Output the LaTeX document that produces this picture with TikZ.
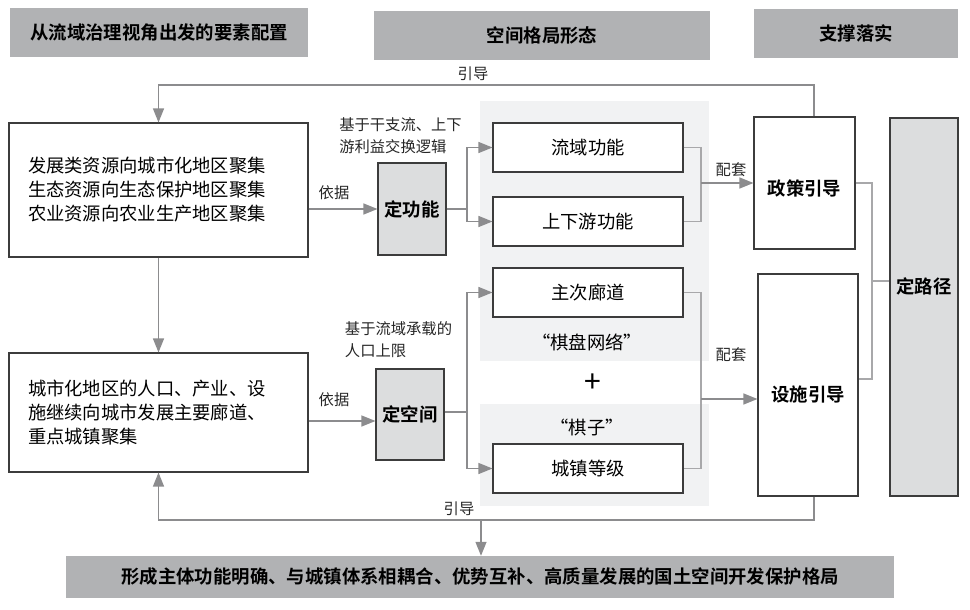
\documentclass[tikz,border=0pt]{standalone}
\usepackage{fontspec}
\setmainfont{Noto Sans CJK SC}[BoldFont={Noto Sans CJK SC Bold}]
\usetikzlibrary{arrows.meta,calc}
\definecolor{hdr}{RGB}{177,178,180}
\definecolor{panel}{RGB}{241,242,243}
\definecolor{boxfill}{RGB}{220,221,222}
\definecolor{bord}{RGB}{60,60,60}
\definecolor{conn}{RGB}{140,140,142}
\definecolor{brk}{RGB}{168,168,170}
\newcommand{\shiftdown}[2]{\raisebox{#1}[\height][\depth]{#2}}
\tikzset{
  hdrbox/.style={fill=hdr, draw=none, font=\fontsize{18.4}{22}\selectfont\bfseries, inner sep=0pt},
  whitebox/.style={draw=bord, line width=1.1pt, fill=white, inner sep=0pt},
  graybox/.style={draw=bord, line width=1.1pt, fill=boxfill, inner sep=0pt, font=\fontsize{18.4}{22}\selectfont\bfseries},
  txtbox/.style={draw=bord, line width=1.1pt, fill=white, text width=261pt, inner xsep=19pt, inner ysep=0pt, align=left, font=\fontsize{18.3}{24}\selectfont},
  midbox/.style={whitebox, minimum width=190pt, minimum height=49pt, font=\fontsize{18.3}{22}\selectfont},
  lbl/.style={font=\fontsize{15.3}{22}\selectfont, text=black!85, inner sep=0pt},
  conline/.style={draw=conn, line width=1.3pt},
  arr/.style={conline, -{Triangle[length=14pt,width=11pt,fill=conn]}},
  brkline/.style={draw=brk, line width=1.3pt},
}
\begin{document}
\begin{tikzpicture}[x=1pt,y=-1pt]
\useasboundingbox (0,0) rectangle (970,610);
% headers
\node[hdrbox, minimum width=298pt, minimum height=49pt] (h1) at (159,32.5) {从流域治理视角出发的要素配置};
\node[hdrbox, minimum width=336pt, minimum height=49pt] (h2) at (542,35.5) {空间格局形态};
\node[hdrbox, minimum width=204pt, minimum height=49pt] (h3) at (856,33.5) {支撑落实};
% panels
\fill[panel] (480,101) rectangle (709,361);
\fill[panel] (480,404) rectangle (709,506);
% left boxes
\node[txtbox, minimum height=134pt] (b1) at (158.5,190) {发展类资源向城市化地区聚集\\生态资源向生态保护地区聚集\\农业资源向农业生产地区聚集};
\node[txtbox, minimum height=119pt] (b2) at (158.5,412.5) {城市化地区的人口、产业、设\\施继续向城市发展主要廊道、\\重点城镇聚集};
% define boxes
\node[graybox, minimum width=68pt, minimum height=92pt] (dgn) at (412,209) {定功能};
\node[graybox, minimum width=68pt, minimum height=91pt] (dkj) at (410,414.5) {定空间};
% middle boxes
\node[midbox] (ly) at (588,147.5) {流域功能};
\node[midbox] (sxy) at (588,221.5) {上下游功能};
\node[midbox] (zcd) at (588,292.5) {主次廊道};
\node[midbox] (cz) at (588,468.5) {城镇等级};
\node[font=\fontsize{18.3}{22}\selectfont, inner sep=0pt] (qpwl) at (587,342) {“棋盘网络”};
\node[font=\fontsize{30}{30}\selectfont, inner sep=0pt] (plus) at (593,383) {+};
\node[font=\fontsize{18.3}{22}\selectfont, inner sep=0pt] (qz) at (587,427) {“棋子”};
% right boxes
\node[whitebox, minimum width=101pt, minimum height=132pt, font=\fontsize{18.4}{22}\selectfont\bfseries] (zc) at (804.5,183) {\shiftdown{-5pt}{政策引导}};
\node[whitebox, minimum width=100pt, minimum height=222pt, font=\fontsize{18.4}{22}\selectfont\bfseries] (ss) at (808,385) {\shiftdown{-9pt}{设施引导}};
\node[graybox, minimum width=68pt, minimum height=378pt] (dlj) at (924,307) {\shiftdown{21pt}{定路径}};
% bottom bar
\node[hdrbox, minimum width=828pt, minimum height=42pt] (bar) at (480,577) {形成主体功能明确、与城镇体系相耦合、优势互补、高质量发展的国土空间开发保护格局};
% labels
\node[lbl] (yj1) at (334,193) {依据};
\node[lbl] (yj2) at (334,400) {依据};
\node[lbl, align=left] (jy1) at (400.5,136) {基于干支流、上下\\游利益交换逻辑};
\node[lbl, align=left] (jy2) at (398.5,340) {基于流域承载的\\人口上限};
\node[lbl] (pt1) at (731,170) {配套};
\node[lbl] (pt2) at (731,355) {配套};
\node[lbl] (yd1) at (473,74) {引导};
\node[lbl] (yd2) at (459,509) {引导};
% coordinates
\coordinate (tl) at (814,85);
\coordinate (bl) at (814,520);
\coordinate (s1) at (467,209);
\coordinate (s2) at (467,412);
\coordinate (m1) at (701,183);
\coordinate (m2) at (701,399);
\coordinate (rb) at (872,281);
\coordinate (dn) at (481,520);
% connectors
\draw[arr] (b1.east |- dgn.west) -- (dgn.west);
\draw[arr] (b2.east |- 0,421) -- (dkj.west |- 0,421);
\draw[arr] (b1.south) -- (b2.north);
\draw[conline] (dgn.east) -- (s1);
\draw[arr] (s1) |- (ly.west);
\draw[arr] (s1) |- (sxy.west);
\draw[conline] (dkj.east |- s2) -- (s2);
\draw[arr] (s2) |- (zcd.west);
\draw[arr] (s2) |- (cz.west);
\draw[brkline] (ly.east) -| (m1) |- (sxy.east);
\draw[arr] (m1) -- (zc.west |- m1);
\draw[brkline] (zcd.east) -| (m2) |- (cz.east);
\draw[arr] (m2) -- (ss.west |- m2);
\draw[brkline] (zc.east) -| (rb) |- ([yshift=6pt]ss.east);
\draw[brkline] (rb) -- (dlj.west |- rb);
\draw[arr] (zc.north -| tl) -- (tl) -| (b1.north);
\draw[arr] (ss.south -| bl) -- (bl) -| (b2.south);
\draw[arr] (dn) -- (bar.north -| dn);
\end{tikzpicture}
\end{document}
